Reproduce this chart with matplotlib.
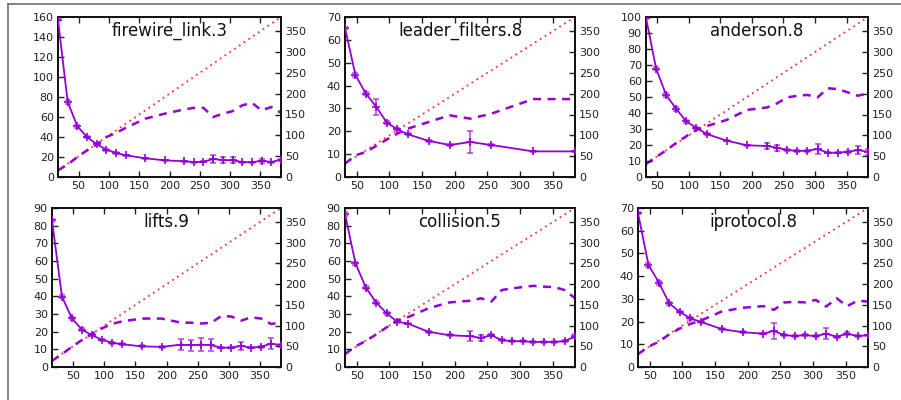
import matplotlib
matplotlib.use("Agg")
import matplotlib.pyplot as plt
from matplotlib.lines import Line2D
import numpy as np

# ---------------- data ----------------
x_a = [16, 32, 48, 64, 80, 96, 112, 128, 160, 192, 224, 240, 256, 272, 288, 304, 320, 336, 352, 368, 384]
x_b = [32, 48, 64, 80, 96, 112, 128, 160, 192, 224, 240, 256, 272, 288, 304, 320, 336, 352, 368, 384]
x_leader = [32, 48, 64, 80, 96, 112, 128, 160, 192, 224, 256, 320, 384]

titles = ["firewire_link.3", "leader_filters.8", "anderson.8", "lifts.9", "collision.5", "iprotocol.8"]

firewire_time = [157, 75, 50.7, 40, 32.7, 27.3, 24, 21.7, 18.7, 16.7, 15.7, 15, 15.3, 18, 17, 16.7, 15, 14.7, 16.3, 15, 17.3]
firewire_err = [1, 2, 1.5, 1, 1, 1, 0.8, 0.8, 0.5, 0.5, 0.5, 0.5, 0.5, 4, 3, 3, 0.5, 0.5, 2, 0.5, 1]
firewire_states = [16, 30, 48, 64, 78, 96, 106, 118, 140, 152, 162, 166, 166, 144, 152, 158, 172, 178, 160, 168, 154]

leader_time = [65.2, 44.6, 36.5, 30.6, 23.8, 20.9, 18.7, 15.8, 14, 15.3, 14, 11.2, 11.2]
leader_err = [0.5, 0.8, 0.8, 3.5, 0.5, 0.5, 0.5, 0.5, 0.5, 4.8, 0.5, 0.3, 0.3]
leader_states = [32, 52, 60, 75, 90, 104, 116, 132, 148, 140, 152, 187, 187]

anderson_time = [99.6, 67.8, 51.2, 42.5, 34.7, 30.7, 26.9, 22.7, 19.8, 19.4, 18.3, 16.8, 16.4, 16.4, 17.5, 15.2, 15.2, 15.8, 16.8, 15.8]
anderson_err = [1, 1, 1, 1, 1, 0.8, 0.5, 0.5, 0.5, 2, 1.8, 0.8, 0.5, 0.5, 3, 0.5, 0.5, 0.5, 2.5, 2]
anderson_states = [31, 48, 64, 82, 98, 113, 122, 137, 161, 167, 177, 191, 195, 197, 191, 213, 211, 203, 195, 201]

lifts_time = [83, 39.8, 27.5, 21.2, 18, 15.5, 13.8, 12.9, 11.7, 11.4, 12.7, 12.3, 12.7, 12.3, 11, 11, 11.9, 11, 11.4, 13.3, 12.3]
lifts_err = [1, 1, 1, 0.8, 0.5, 0.5, 0.5, 0.5, 0.5, 0.5, 3, 3, 3.5, 3.5, 0.5, 0.5, 2, 0.5, 0.5, 3, 0.8]
lifts_states = [15, 31, 49, 65, 80, 93, 104, 110, 117, 117, 107, 107, 105, 107, 123, 122, 112, 120, 117, 104, 107]

collision_time = [86.6, 58.7, 44.9, 36.4, 30.3, 25.6, 24.6, 19.9, 18, 17.4, 16.5, 18, 15.2, 14.6, 14.6, 14.2, 14.2, 14.2, 14.6, 17.4]
collision_err = [1, 1, 1, 1, 0.8, 0.8, 0.5, 0.5, 0.5, 2.8, 1.8, 0.5, 0.5, 0.5, 0.5, 0.5, 0.5, 0.5, 0.5, 1]
collision_states = [31, 50, 63, 79, 96, 112, 120, 142, 156, 160, 166, 158, 186, 190, 193, 196, 194, 193, 186, 166]

iprotocol_time = [67.8, 45, 37.1, 28, 24.3, 21.4, 19.9, 16.7, 15.3, 14.7, 15.9, 14, 13.7, 14, 13.6, 14.7, 13.3, 14.7, 13.6, 14]
iprotocol_err = [0.5, 0.8, 0.8, 0.8, 0.5, 0.5, 0.5, 0.5, 0.5, 0.3, 3.5, 0.5, 0.5, 0.5, 0.5, 2.5, 0.5, 0.5, 0.5, 0.3]
iprotocol_states = [31, 49, 61, 79, 93, 104, 112, 134, 143, 147, 138, 156, 157, 156, 162, 146, 166, 147, 160, 158]

left_max = [160, 70, 100, 90, 90, 70]
left_step = [20, 10, 10, 10, 10, 10]
right_max = 384
right_ticks = [0, 50, 100, 150, 200, 250, 300, 350]
x_ticks = [50, 100, 150, 200, 250, 300, 350]

panels = [
    (x_a, firewire_time, firewire_err, firewire_states),
    (x_leader, leader_time, leader_err, leader_states),
    (x_b, anderson_time, anderson_err, anderson_states),
    (x_a, lifts_time, lifts_err, lifts_states),
    (x_b, collision_time, collision_err, collision_states),
    (x_b, iprotocol_time, iprotocol_err, iprotocol_states),
]

# ---------------- layout ----------------
W, H = 901, 400
boxes = [  # left, right, top, bottom in pixels
    (58, 281, 17, 177),
    (345, 575, 17, 177),
    (646, 868, 17, 177),
    (52, 281, 208, 367),
    (345, 575, 208, 367),
    (638, 868, 208, 367),
]

purple = "#9400d3"
red = "#ff3030"

fig = plt.figure(figsize=(W / 100, H / 100), dpi=100)

# outer partial frame
fig.add_artist(Line2D([7.5 / W, 1.0], [1 - 3.5 / H, 1 - 3.5 / H], color="#707070", lw=1.2))
fig.add_artist(Line2D([7.5 / W, 7.5 / W], [0, 1 - 3.5 / H], color="#707070", lw=1.2))

for i, ((xs, t, e, s), (l, r, tp, b)) in enumerate(zip(panels, boxes)):
    ax = fig.add_axes([l / W, 1 - b / H, (r - l) / W, (b - tp) / H])
    ax2 = ax.twinx()
    xs_arr = np.array(xs)
    # reference diagonal (y = x on right axis)
    ax2.plot(xs_arr, xs_arr, color=red, lw=1.3, ls=(0, (1, 2.2)), zorder=1)
    ax2.plot(xs_arr, s, color=purple, lw=1.8, ls=(0, (3.2, 2.6)), zorder=2)
    ax2.set_ylim(0, right_max)
    ax2.set_yticks(right_ticks)
    ax2.tick_params(axis="y", direction="in", length=4, width=1, labelsize=8, pad=3,
                    colors="#222222")
    ax.errorbar(xs, t, yerr=e, color=purple, lw=1.3, marker="+", ms=6, mew=1.2,
                ecolor=(0.58, 0.0, 0.83, 0.65), elinewidth=1.2, capsize=2.5, capthick=1.2,
                zorder=5)
    ax.set_zorder(ax2.get_zorder() + 1)
    ax.patch.set_visible(False)
    ax.set_xlim(xs[0], xs[-1])
    ax.set_ylim(0, left_max[i])
    ax.set_yticks(np.arange(0, left_max[i] + 1, left_step[i]))
    ax.set_xticks(x_ticks)
    ax.tick_params(axis="both", direction="in", length=4, width=1, labelsize=8, pad=3,
                   colors="#222222", top=True)
    for sp in list(ax.spines.values()) + list(ax2.spines.values()):
        sp.set_linewidth(1.3)
        sp.set_color("#111111")
    ax.text(0.5, 0.915, titles[i], transform=ax.transAxes, ha="center", va="center",
            fontsize=12, color="#111111")

fig.savefig("out.png", dpi=100)
